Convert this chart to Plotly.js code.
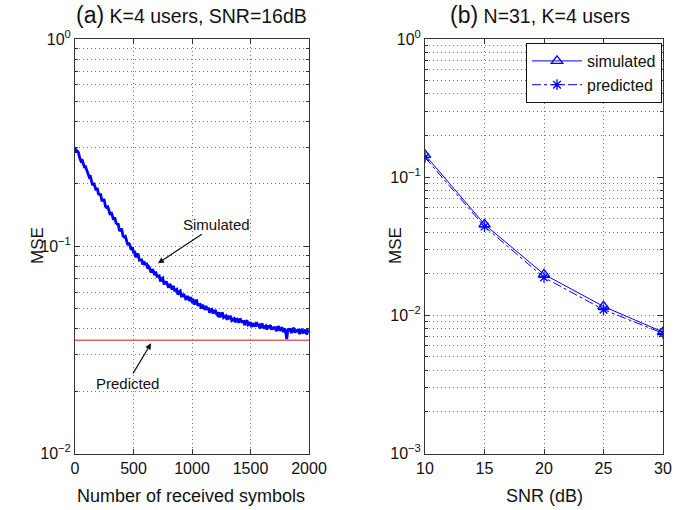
<!DOCTYPE html>
<html>
<head>
<meta charset="utf-8">
<script src="https://cdn.plot.ly/plotly-3.0.1.min.js"></script>
<style>html,body{margin:0;padding:0;background:#fff;}#chart{width:688px;height:510px;}</style>
</head>
<body>
<div id="chart"></div>
<script>
// ---- Panel (a): MSE vs number of received symbols (read every 10 symbols) ----
const symbolStep = 10;
const simulatedMSE = [
  0.300, 0.2867, 0.2879, 0.2831, 0.2673, 0.2582, 0.2621, 0.2505, 0.2416, 0.2423,
  0.2333, 0.2205, 0.2168, 0.2199, 0.2059, 0.1969, 0.2020, 0.1959, 0.1862, 0.1911,
  0.1792, 0.1775, 0.1775, 0.1649, 0.1677, 0.1674, 0.1558, 0.1539, 0.1550, 0.1490,
  0.1416, 0.1459, 0.1414, 0.1343, 0.1380, 0.1297, 0.1280, 0.1275, 0.1183, 0.1207,
  0.1205, 0.1122, 0.1109, 0.1117, 0.1070, 0.1014, 0.1040, 0.1010, 0.0960, 0.0992,
  0.0936, 0.0937, 0.0884, 0.0916, 0.0912, 0.0857, 0.0862, 0.0860, 0.0815, 0.0846,
  0.0810, 0.0832, 0.0782, 0.0797, 0.0779, 0.0747, 0.0775, 0.0759, 0.0726, 0.0754,
  0.0716, 0.0714, 0.0719, 0.0676, 0.0696, 0.0703, 0.0662, 0.0663, 0.0676, 0.0657,
  0.0631, 0.0657, 0.0643, 0.0618, 0.0644, 0.0613, 0.0613, 0.0619, 0.0583, 0.0602,
  0.0608, 0.0574, 0.0575, 0.0589, 0.0572, 0.0551, 0.0575, 0.0566, 0.0544, 0.0568,
  0.0542, 0.0548, 0.0523, 0.0546, 0.0547, 0.0516, 0.0523, 0.0524, 0.0500, 0.0522,
  0.0508, 0.0495, 0.0516, 0.0494, 0.0506, 0.0478, 0.0495, 0.0497, 0.0474, 0.0481,
  0.0492, 0.0471, 0.0464, 0.0480, 0.0454, 0.0471, 0.0478, 0.0453, 0.0459, 0.0462,
  0.0441, 0.0462, 0.0446, 0.0462, 0.0438, 0.0445, 0.0447, 0.0429, 0.0449, 0.0442,
  0.0427, 0.0448, 0.0433, 0.0428, 0.0439, 0.0416, 0.0431, 0.0439, 0.0417, 0.0420,
  0.0430, 0.0408, 0.0424, 0.0419, 0.0410, 0.0430, 0.0412, 0.0423, 0.0401, 0.0416,
  0.0423, 0.0402, 0.0409, 0.0413, 0.0396, 0.0415, 0.0402, 0.0417, 0.0396, 0.0408,
  0.0399, 0.0410, 0.0389, 0.0405, 0.0412, 0.0391, 0.0398, 0.0406, 0.0385, 0.0401,
  0.0388, 0.0356, 0.0399, 0.0394, 0.0401, 0.0381, 0.0396, 0.0404, 0.0383, 0.0395,
  0.0386, 0.0398, 0.0377, 0.0393, 0.0400, 0.0380, 0.0388, 0.0396, 0.0375, 0.0391,
  0.0386
];
const predictedX = [0, 2000];
const predictedMSE = [0.0352, 0.0352];

// ---- Panel (b): MSE vs SNR ----
const snrDB = [10, 15, 20, 25, 30];
const simulatedSNR = [0.145, 0.0456, 0.0198, 0.0116, 0.00757];
const predictedSNR = [0.139, 0.0439, 0.0188, 0.0110, 0.00741];

// ---- Text ----
const titleA = ["(a)", "K=4 users, SNR=16dB"];
const titleB = ["(b)", "N=31, K=4 users"];
const xTitleA = "Number of received symbols";
const xTitleB = "SNR (dB)";
const yTitle = "MSE";
const yTicksA = [0.01, 0.1, 1];
const yTickTextA = ["10<sup>\u22122</sup>", "10<sup>\u22121</sup>", "10<sup>0</sup>"];
const yTicksB = [0.001, 0.01, 0.1, 1];
const yTickTextB = ["10<sup>\u22123</sup>", "10<sup>\u22122</sup>", "10<sup>\u22121</sup>", "10<sup>0</sup>"];

const symbolsX = simulatedMSE.map((_, i) => i * symbolStep);

function minorLogPositions(decades) {
  const out = [];
  decades.forEach(d => { for (let m = 2; m <= 9; m++) out.push(m * Math.pow(10, d)); });
  return out;
}

const FONT = '"Liberation Sans", Arial, Helvetica, sans-serif';
const BLUE = '#0000ff';
const GRID = '#7a7a7a';
const DOT = '1px,3px';
const AX = '#333333';

function xAxis(domain, range, dtick, anchor) {
  return {
    domain: domain, range: range, dtick: dtick, tick0: range[0], anchor: anchor,
    showline: true, linecolor: AX, linewidth: 1, mirror: 'ticks',
    ticks: 'inside', ticklen: 5, tickcolor: AX,
    showgrid: true, gridcolor: GRID, griddash: DOT, gridwidth: 1,
    zeroline: false, tickfont: {family: FONT, size: 16, color: '#111'}
  };
}
function yAxis(domain, range, anchor, tv, tt, decades) {
  return {
    domain: domain, type: 'log', range: range, anchor: anchor,
    tickmode: 'array', tickvals: tv, ticktext: tt,
    showline: true, linecolor: AX, linewidth: 1, mirror: 'ticks',
    ticks: 'inside', ticklen: 5, tickcolor: AX,
    showgrid: true, gridcolor: GRID, griddash: DOT, gridwidth: 1,
    minor: {tickmode: 'array', tickvals: minorLogPositions(decades),
            showgrid: true, gridcolor: GRID, griddash: DOT, gridwidth: 1,
            ticks: 'inside', ticklen: 3, tickcolor: AX},
    zeroline: false, tickfont: {family: FONT, size: 16, color: '#111'}
  };
}

const W = 688, H = 510;
const px = v => v / W, py = v => 1 - v / H;

const traces = [
  {x: symbolsX, y: simulatedMSE, xaxis: 'x', yaxis: 'y', mode: 'lines',
   line: {color: BLUE, width: 2.8}, showlegend: false, name: 'Simulated'},
  {x: predictedX, y: predictedMSE, xaxis: 'x', yaxis: 'y', mode: 'lines',
   line: {color: '#e36464', width: 1.5}, showlegend: false, name: 'Predicted'},
  {x: snrDB, y: simulatedSNR, xaxis: 'x2', yaxis: 'y2', mode: 'lines+markers',
   line: {color: BLUE, width: 1}, marker: {symbol: 'triangle-up-open', size: 10, color: BLUE, line: {width: 1.3, color: BLUE}},
   name: 'simulated'},
  {x: snrDB, y: predictedSNR, xaxis: 'x2', yaxis: 'y2', mode: 'lines+markers',
   line: {color: BLUE, width: 1, dash: 'dashdot'}, marker: {symbol: 'asterisk-open', size: 9, color: BLUE, line: {width: 1.3, color: BLUE}},
   name: 'predicted'}
];

const yDom = [py(453.5), py(39)];
const titleHTML = t => '<span style="font-size:23px">' + t[0] + '</span> ' + t[1];
const layout = {
  width: W, height: H,
  margin: {l: 0, r: 0, t: 0, b: 0},
  paper_bgcolor: '#fff', plot_bgcolor: '#fff',
  font: {family: FONT, size: 16, color: '#111'},
  xaxis: xAxis([px(75), px(309)], [0, 2000], 500, 'y'),
  yaxis: yAxis(yDom, [-2, 0], 'x', yTicksA, yTickTextA, [-2, -1]),
  xaxis2: xAxis([px(425), px(663)], [10, 30], 5, 'y2'),
  yaxis2: yAxis(yDom, [-3, 0], 'x2', yTicksB, yTickTextB, [-3, -2, -1]),
  showlegend: true,
  legend: {x: px(662), xanchor: 'right', y: py(43), yanchor: 'top',
           bgcolor: '#fff', bordercolor: '#111', borderwidth: 1, itemwidth: 50,
           font: {family: FONT, size: 16, color: '#111'}, tracegroupgap: 0},
  annotations: [
    {xref: 'paper', yref: 'paper', x: px(191), y: py(15), text: titleHTML(titleA),
     showarrow: false, font: {family: FONT, size: 19.5, color: '#111'}, xanchor: 'center', yanchor: 'middle'},
    {xref: 'paper', yref: 'paper', x: px(540), y: py(15), text: titleHTML(titleB),
     showarrow: false, font: {family: FONT, size: 19.5, color: '#111'}, xanchor: 'center', yanchor: 'middle'},
    {xref: 'paper', yref: 'paper', x: px(191), y: py(496), text: xTitleA, showarrow: false,
     font: {family: FONT, size: 18, color: '#111'}, xanchor: 'center', yanchor: 'middle'},
    {xref: 'paper', yref: 'paper', x: px(544), y: py(496), text: xTitleB, showarrow: false,
     font: {family: FONT, size: 18, color: '#111'}, xanchor: 'center', yanchor: 'middle'},
    {xref: 'paper', yref: 'paper', x: px(37), y: py(246), text: yTitle, textangle: -90, showarrow: false,
     font: {family: FONT, size: 17, color: '#111'}, xanchor: 'center', yanchor: 'middle'},
    {xref: 'paper', yref: 'paper', x: px(395), y: py(246), text: yTitle, textangle: -90, showarrow: false,
     font: {family: FONT, size: 17, color: '#111'}, xanchor: 'center', yanchor: 'middle'},
    {xref: 'x', yref: 'y', x: 709, y: Math.log10(0.0828), text: 'Simulated', showarrow: true,
     ax: 59, ay: -39, arrowhead: 2, arrowsize: 1, arrowwidth: 1.2, arrowcolor: '#111',
     font: {family: FONT, size: 15, color: '#111'}},
    {xref: 'x', yref: 'y', x: 650, y: Math.log10(0.034), text: 'Predicted', showarrow: true,
     ax: -24, ay: 40, arrowhead: 2, arrowsize: 1, arrowwidth: 1.2, arrowcolor: '#111',
     font: {family: FONT, size: 15, color: '#111'}}
  ]
};

Plotly.newPlot('chart', traces, layout, {displayModeBar: false, staticPlot: true});
</script>
</body>
</html>
